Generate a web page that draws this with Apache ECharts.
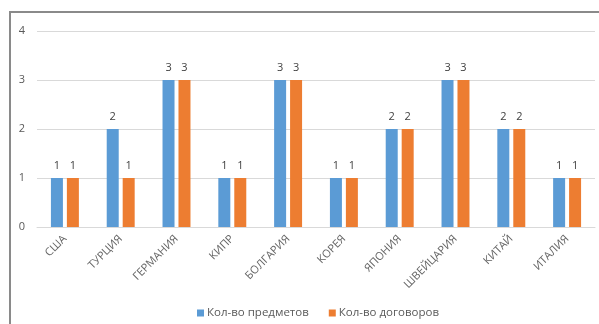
<!DOCTYPE html>
<html>
<head>
<meta charset="utf-8">
<script src="https://cdn.jsdelivr.net/npm/echarts@6/dist/echarts.min.js"></script>
<style>
  html, body { margin: 0; padding: 0; background: #fff; }
  #chart { width: 599px; height: 324px; }
</style>
</head>
<body>
<div id="chart"></div>
<script>
// Countries on the horizontal axis
const countries = ['США', 'ТУРЦИЯ', 'ГЕРМАНИЯ', 'КИПР', 'БОЛГАРИЯ', 'КОРЕЯ', 'ЯПОНИЯ', 'ШВЕЙЦАРИЯ', 'КИТАЙ', 'ИТАЛИЯ'];
// Number of subjects per country
const subjects = [1, 2, 3, 1, 3, 1, 2, 3, 2, 1];
// Number of agreements per country
const agreements = [1, 1, 3, 1, 3, 1, 2, 3, 2, 1];
const seriesNames = ['Кол-во предметов', 'Кол-во договоров'];

const FONT = '"Open Sans", "Noto Sans", sans-serif';
const chart = echarts.init(document.getElementById('chart'), null, { renderer: 'canvas' });

const labelStyle = {
  show: true,
  position: 'top',
  distance: 7,
  color: '#404040',
  fontSize: 11,
  fontFamily: FONT
};

chart.setOption({
  animation: false,
  backgroundColor: '#ffffff',
  graphic: [{
    type: 'rect',
    shape: { x: 10, y: 12, width: 700, height: 400 },
    style: { fill: 'none', stroke: '#8a8a8a', lineWidth: 2 },
    silent: true
  }],
  grid: { left: 37, right: 4, top: 31, bottom: 97, containLabel: false },
  legend: {
    data: seriesNames,
    left: 192,
    top: 302,
    icon: 'rect',
    itemWidth: 7,
    itemHeight: 7,
    itemGap: 20,
    textStyle: { color: '#595959', fontSize: 11.5, fontFamily: FONT, padding: [0, 0, 0, -2] }
  },
  xAxis: {
    type: 'category',
    data: countries,
    axisTick: { show: false },
    axisLine: { show: true, lineStyle: { color: '#d9d9d9', width: 1 } },
    axisLabel: {
      rotate: 45,
      margin: 10,
      interval: 0,
      color: '#666666',
      fontSize: 11,
      fontFamily: FONT
    }
  },
  yAxis: {
    type: 'value',
    min: 0,
    max: 4,
    interval: 1,
    axisLine: { show: false },
    axisTick: { show: false },
    splitLine: { lineStyle: { color: '#d9d9d9', width: 1 } },
    axisLabel: { color: '#595959', fontSize: 11, margin: 12, fontFamily: FONT }
  },
  series: [
    {
      name: seriesNames[0],
      type: 'bar',
      data: subjects,
      barWidth: 12,
      barGap: '33%',
      itemStyle: { color: '#5b9bd5' },
      label: labelStyle
    },
    {
      name: seriesNames[1],
      type: 'bar',
      data: agreements,
      barWidth: 12,
      barGap: '33%',
      itemStyle: { color: '#ed7d31' },
      label: labelStyle
    }
  ]
});
</script>
</body>
</html>
